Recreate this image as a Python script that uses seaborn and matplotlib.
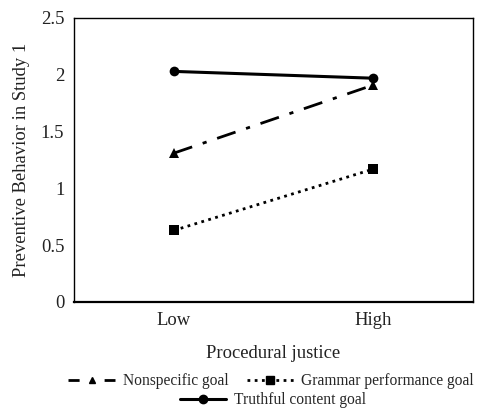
import matplotlib
matplotlib.use("Agg")
import matplotlib.pyplot as plt
import seaborn as sns
import pandas as pd
from matplotlib.lines import Line2D

levels = ["Low", "High"]
nonspecific = [1.31, 1.91]
grammar = [0.63, 1.17]
truthful = [2.03, 1.97]

sns.set_style("white")
plt.rcParams['font.family'] = ['Liberation Serif', 'DejaVu Serif']

df = pd.DataFrame({"level": levels * 3,
                   "value": nonspecific + grammar + truthful,
                   "goal": ["Nonspecific goal"] * 2 + ["Grammar performance goal"] * 2 + ["Truthful content goal"] * 2})

fig = plt.figure(figsize=(4.79, 4.08), dpi=100)
ax = fig.add_axes([74 / 479, 1 - 302 / 408, 399 / 479, 284 / 408])

styles = {
    "Nonspecific goal": dict(marker="^", dashes=(7, 4, 1.5, 4), lw=2.0, ms=6.5),
    "Grammar performance goal": dict(marker="s", dashes=(1, 1.6), lw=2.0, ms=7),
    "Truthful content goal": dict(marker="o", dashes=None, lw=2.2, ms=7),
}

for g, st in styles.items():
    sub = df[df["goal"] == g]
    sns.lineplot(data=sub, x="level", y="value", ax=ax, color="black",
                 marker=st["marker"], markersize=st["ms"], lw=st["lw"],
                 markeredgewidth=0, sort=False)
    l = ax.lines[-1]
    if st["dashes"]:
        l.set_dashes(st["dashes"])

ax.set_xlim(-0.5, 1.5)
ax.set_ylim(0, 2.5)
ax.set_yticks([0, 0.5, 1, 1.5, 2, 2.5])
ax.set_yticklabels(["0", "0.5", "1", "1.5", "2", "2.5"])
ax.tick_params(length=0, labelsize=13.4, colors="#222222")
ax.tick_params(axis="y", pad=7)
ax.tick_params(axis="x", pad=7)
ax.set_xlabel("Procedural justice", fontsize=13.4, labelpad=12, color="#222222")
ax.set_ylabel("Preventive Behavior in Study 1", fontsize=13.4, labelpad=8, color="#222222")
for s in ax.spines.values():
    s.set_color("black")
    s.set_linewidth(1.0)
ax.spines["bottom"].set_linewidth(1.6)

h1 = Line2D([], [], color="black", marker="^", ms=5, lw=2, dashes=(4, 9))
h2 = Line2D([], [], color="black", marker="s", ms=6, lw=2, dashes=(1, 1.6))
h3 = Line2D([], [], color="black", marker="o", ms=6, lw=2.2)
fig.legend([h1, h2], ["Nonspecific goal", "Grammar performance goal"], ncol=2,
           loc="center", bbox_to_anchor=(0.566, 1 - 381 / 408), frameon=False,
           fontsize=11.2, handlelength=3.0, columnspacing=1.2, handletextpad=0.5,
           borderpad=0, borderaxespad=0)
fig.legend([h3], ["Truthful content goal"], loc="center",
           bbox_to_anchor=(0.57, 1 - 400 / 408), frameon=False,
           fontsize=11.2, handlelength=3.0, handletextpad=0.5,
           borderpad=0, borderaxespad=0)

fig.savefig("out.png", dpi=100)
